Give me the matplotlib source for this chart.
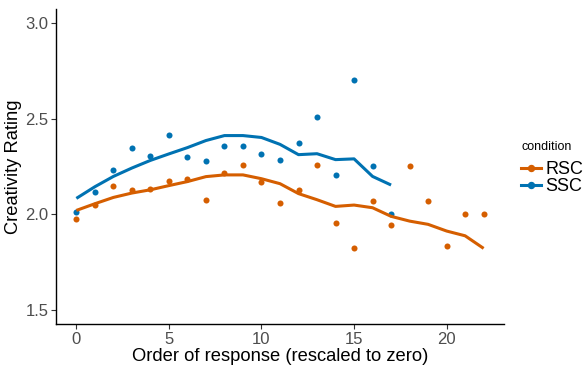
import matplotlib
matplotlib.use("Agg")
import matplotlib.pyplot as plt
from matplotlib.lines import Line2D

plt.rcParams['font.family'] = ['Liberation Sans', 'DejaVu Sans']

# Data
order = list(range(23))
rsc_points = [1.973, 2.046, 2.150, 2.125, 2.132, 2.174, 2.186, 2.076, 2.218, 2.260,
              2.170, 2.060, 2.128, 2.260, 1.954, 1.823, 2.067, 1.943, 2.251, 2.067,
              1.831, 2.001, 2.001]
ssc_x = list(range(18))
ssc_points = [2.013, 2.114, 2.232, 2.349, 2.303, 2.414, 2.302, 2.277, 2.358, 2.359,
              2.314, 2.284, 2.373, 2.510, 2.204, 2.702, 2.251, 2.001]
rsc_line = [2.020, 2.055, 2.088, 2.111, 2.128, 2.150, 2.171, 2.197, 2.206, 2.206,
            2.186, 2.160, 2.108, 2.076, 2.041, 2.048, 2.034, 1.989, 1.964, 1.947,
            1.912, 1.887, 1.821]
ssc_line = [2.083, 2.144, 2.198, 2.242, 2.282, 2.316, 2.349, 2.386, 2.412, 2.412,
            2.402, 2.366, 2.312, 2.317, 2.286, 2.290, 2.198, 2.153]
conditions = ['RSC', 'SSC']
colors = {'RSC': '#D55E00', 'SSC': '#0072B2'}
xticks = [0, 5, 10, 15, 20]
yticks = [1.5, 2.0, 2.5, 3.0]

fig = plt.figure(figsize=(5.83, 3.66), dpi=100)
ax = fig.add_axes([56/583, 1-324/366, (504-56)/583, (324-9)/366])

ax.scatter(order, rsc_points, s=19, color=colors['RSC'], zorder=2, linewidths=0)
ax.scatter(ssc_x, ssc_points, s=19, color=colors['SSC'], zorder=2, linewidths=0)
ax.plot(order, rsc_line, color=colors['RSC'], lw=2.2, zorder=3, solid_capstyle='butt')
ax.plot(ssc_x, ssc_line, color=colors['SSC'], lw=2.2, zorder=3, solid_capstyle='butt')

ax.set_xlim(-1.1, 23.1)
ax.set_ylim(1.425, 3.075)
ax.set_xticks(xticks)
ax.set_yticks(yticks)
ax.set_yticklabels([f'{v:.1f}' for v in yticks])
for s in ['top', 'right']:
    ax.spines[s].set_visible(False)
for s in ['left', 'bottom']:
    ax.spines[s].set_linewidth(1.0)
    ax.spines[s].set_color('black')
ax.tick_params(axis='both', colors='#333333', labelcolor='#4D4D4D',
               labelsize=12, length=3.5, width=0.8, pad=2)
ax.set_xlabel('Order of response (rescaled to zero)', fontsize=13.2, labelpad=1)
ax.set_ylabel('Creativity Rating', fontsize=13.2, labelpad=2)

handles = [Line2D([0], [0], color=colors[c], lw=2.2, marker='o', markersize=4.3) for c in conditions]
leg = fig.legend(handles, conditions, title='condition', loc='upper left',
                 bbox_to_anchor=(521/583, 1-141/366), frameon=False,
                 fontsize=13, title_fontsize=9, handlelength=1.1,
                 handletextpad=0.25, labelspacing=0.0, borderaxespad=0, borderpad=0)
leg._legend_box.align = 'left'
leg._legend_box.sep = 6

fig.savefig('out.png', dpi=100)
